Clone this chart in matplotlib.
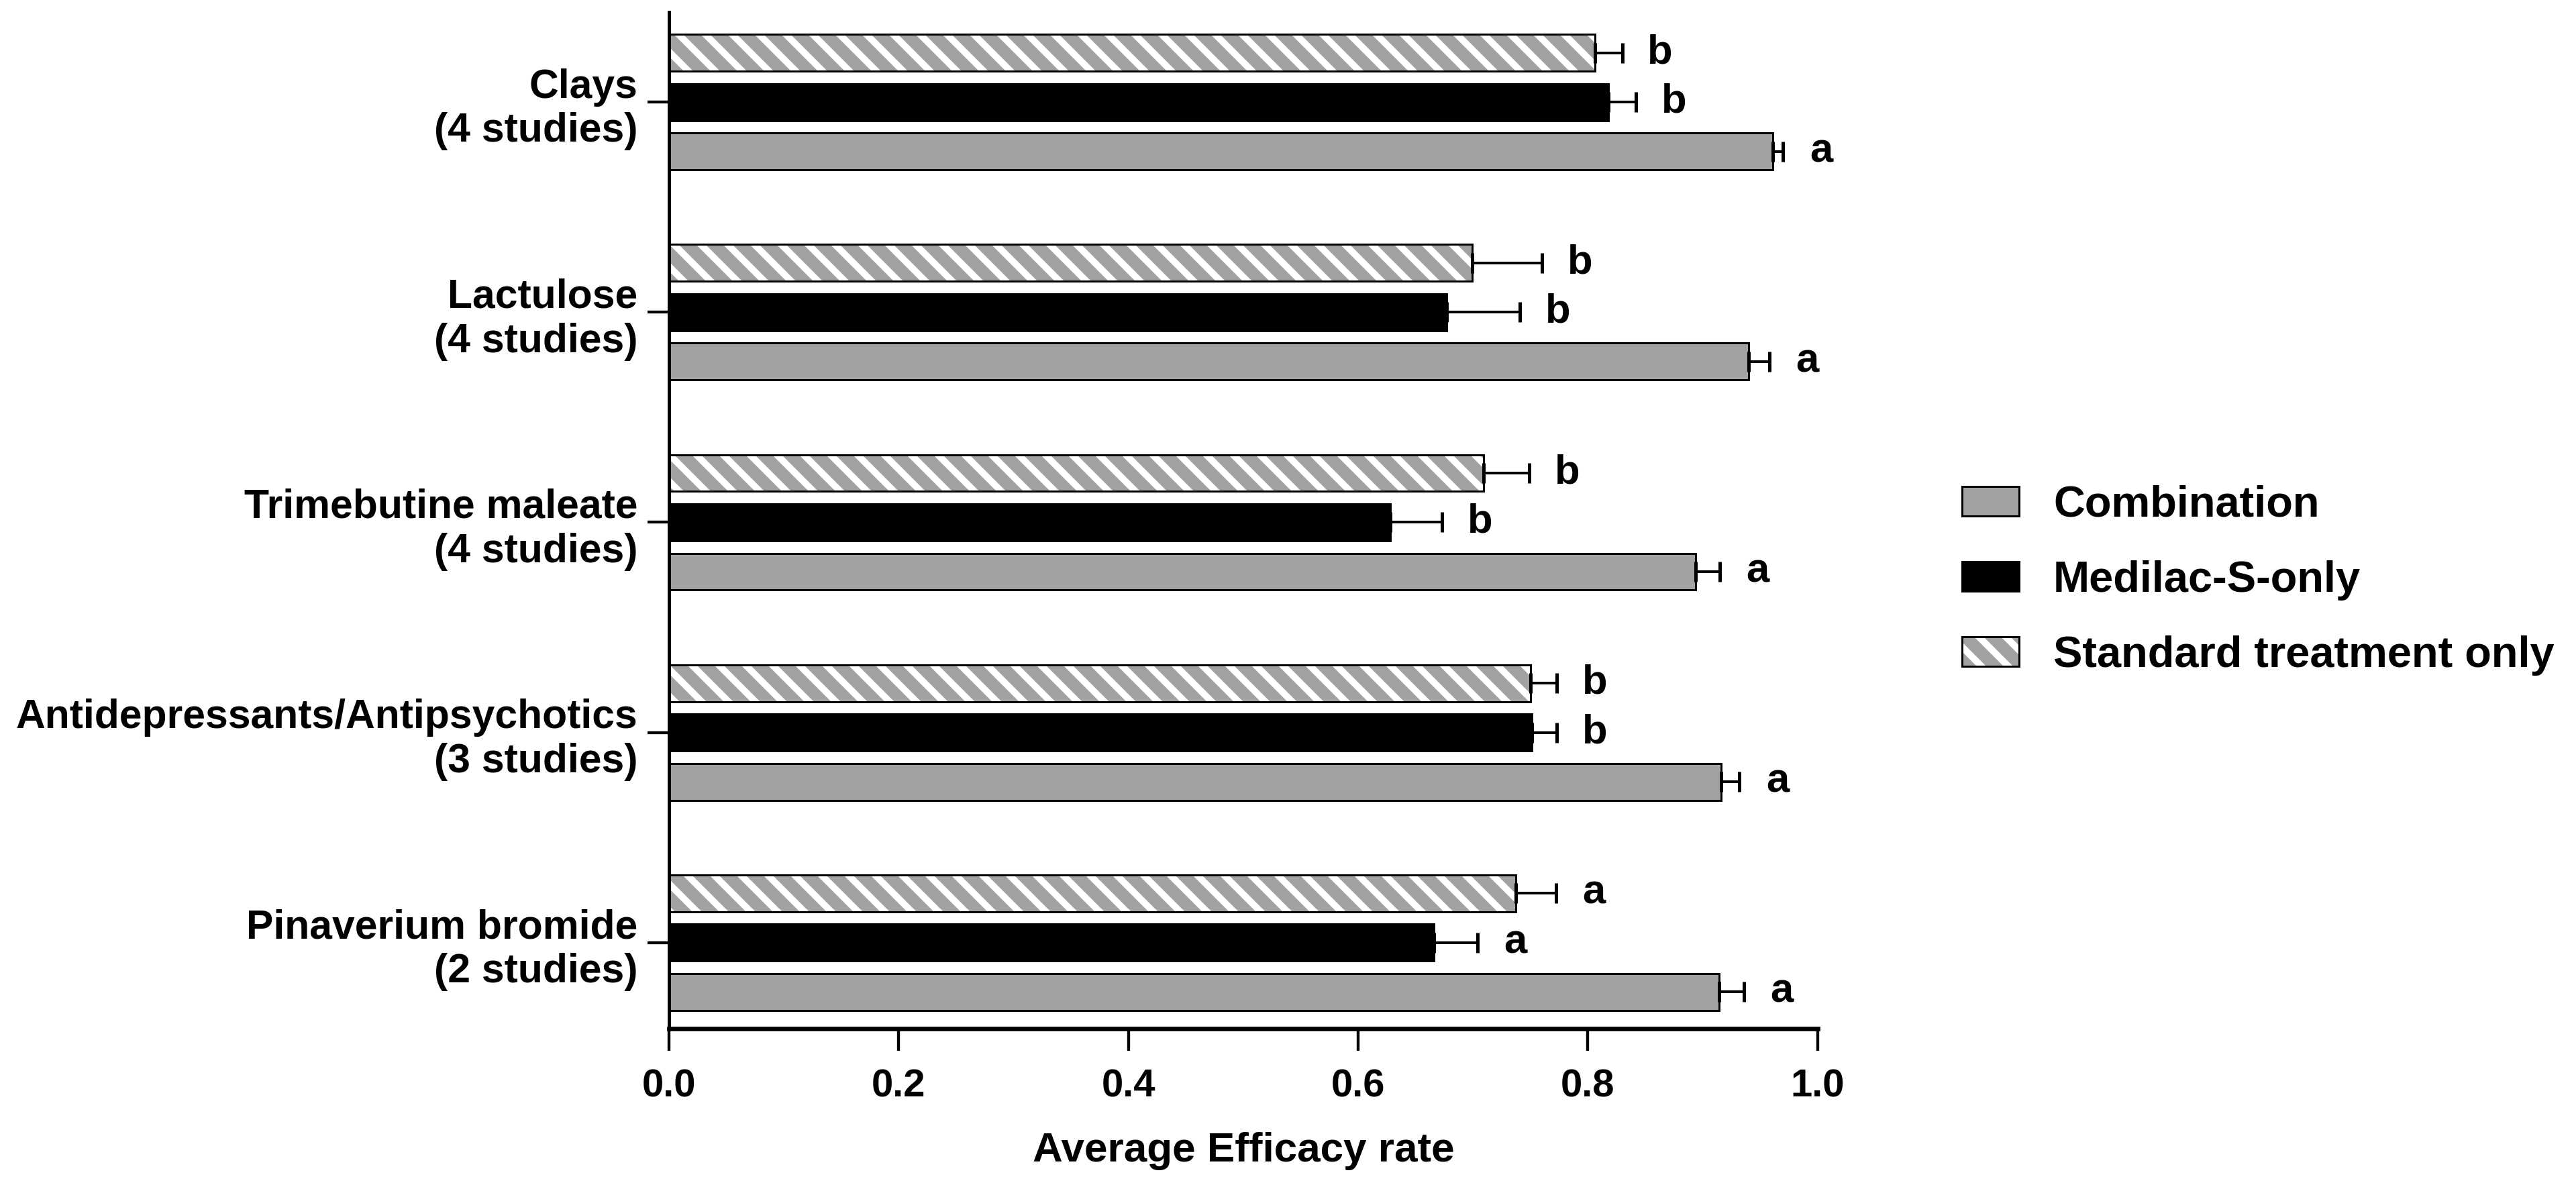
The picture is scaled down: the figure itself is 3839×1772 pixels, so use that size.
import matplotlib.pyplot as plt
import numpy as np
from matplotlib.legend_handler import HandlerTuple

plt.rcParams["font.family"] = ["Liberation Sans", "DejaVu Sans"]
plt.rcParams["font.weight"] = "bold"
plt.rcParams["hatch.color"] = "white"
plt.rcParams["hatch.linewidth"] = 3.0

# groups, top to bottom
groups = [
    "Clays\n(4 studies)",
    "Lactulose\n(4 studies)",
    "Trimebutine maleate\n(4 studies)",
    "Antidepressants/Antipsychotics\n(3 studies)",
    "Pinaverium bromide\n(2 studies)",
]
series = ["Combination", "Medilac-S-only", "Standard treatment only"]

combination = [0.961, 0.940, 0.894, 0.916, 0.914]
combination_err = [0.009, 0.018, 0.021, 0.016, 0.022]
medilac = [0.818, 0.677, 0.628, 0.751, 0.666]
medilac_err = [0.024, 0.064, 0.045, 0.022, 0.038]
standard = [0.806, 0.699, 0.709, 0.750, 0.737]
standard_err = [0.024, 0.061, 0.040, 0.023, 0.035]

combination_letters = ["a", "a", "a", "a", "a"]
medilac_letters = ["b", "b", "b", "b", "a"]
standard_letters = ["b", "b", "b", "b", "a"]

xticks = [0.0, 0.2, 0.4, 0.6, 0.8, 1.0]

GRAY = "#a2a2a2"
step = 0.2346
bar_h = 0.175

fig = plt.figure(figsize=(3839 / 240, 1772 / 240), dpi=240)
ax = fig.add_axes([0.2597, 0.1349, 0.4459, 0.8549])

pos = np.arange(len(groups))
y_std = pos - step
y_med = pos
y_comb = pos + step

comb_bars = ax.barh(y_comb, combination, height=bar_h, color=GRAY,
                    edgecolor="black", linewidth=0.9, zorder=2)
med_bars = ax.barh(y_med, medilac, height=bar_h, color="black",
                   edgecolor="black", linewidth=0.9, zorder=2)
std_fill = ax.barh(y_std, standard, height=bar_h, color=GRAY,
                   edgecolor="white", linewidth=0, hatch="\\\\", zorder=2)
std_edge = ax.barh(y_std, standard, height=bar_h, fill=False,
                   edgecolor="black", linewidth=0.9, zorder=3)

for vals, errs, ys, letters in [
    (combination, combination_err, y_comb, combination_letters),
    (medilac, medilac_err, y_med, medilac_letters),
    (standard, standard_err, y_std, standard_letters),
]:
    vals = np.array(vals)
    errs = np.array(errs)
    ax.errorbar(vals, ys, xerr=[np.zeros_like(errs), errs], fmt="none",
                ecolor="black", elinewidth=1.2, capsize=4.5, capthick=1.5,
                zorder=4)
    for v, e, y, t in zip(vals, errs, ys, letters):
        ax.text(v + e + 0.033, y, t, fontsize=18.5, fontweight="bold",
                ha="center", va="center")

ax.set_xlim(0, 1.0)
ax.set_ylim(4.409, -0.428)
ax.set_xticks(xticks)
ax.set_xticklabels([f"{t:.1f}" for t in xticks], fontsize=17.4, fontweight="bold")
ax.set_yticks(pos)
ax.set_yticklabels(groups, fontsize=18.2, fontweight="bold")
ax.set_xlabel("Average Efficacy rate", fontsize=18.6, fontweight="bold", labelpad=12)

ax.spines["top"].set_visible(False)
ax.spines["right"].set_visible(False)
ax.spines["left"].set_linewidth(1.5)
ax.spines["bottom"].set_linewidth(2.0)
ax.tick_params(axis="x", length=10, width=1.3, pad=8, direction="out")
ax.tick_params(axis="y", length=9.5, width=1.3, pad=4.5, direction="out")

ax.legend([comb_bars, med_bars, (std_fill, std_edge)], series,
          handler_map={tuple: HandlerTuple(ndivide=1)},
          loc="center left", bbox_to_anchor=(0.7617, 0.5119),
          bbox_transform=fig.transFigure, frameon=False,
          prop={"size": 19.5, "weight": "bold"},
          handlelength=1.31, handleheight=0.65, handletextpad=0.78,
          labelspacing=0.8, borderpad=0, borderaxespad=0)

fig.savefig("out.png", dpi=240)
